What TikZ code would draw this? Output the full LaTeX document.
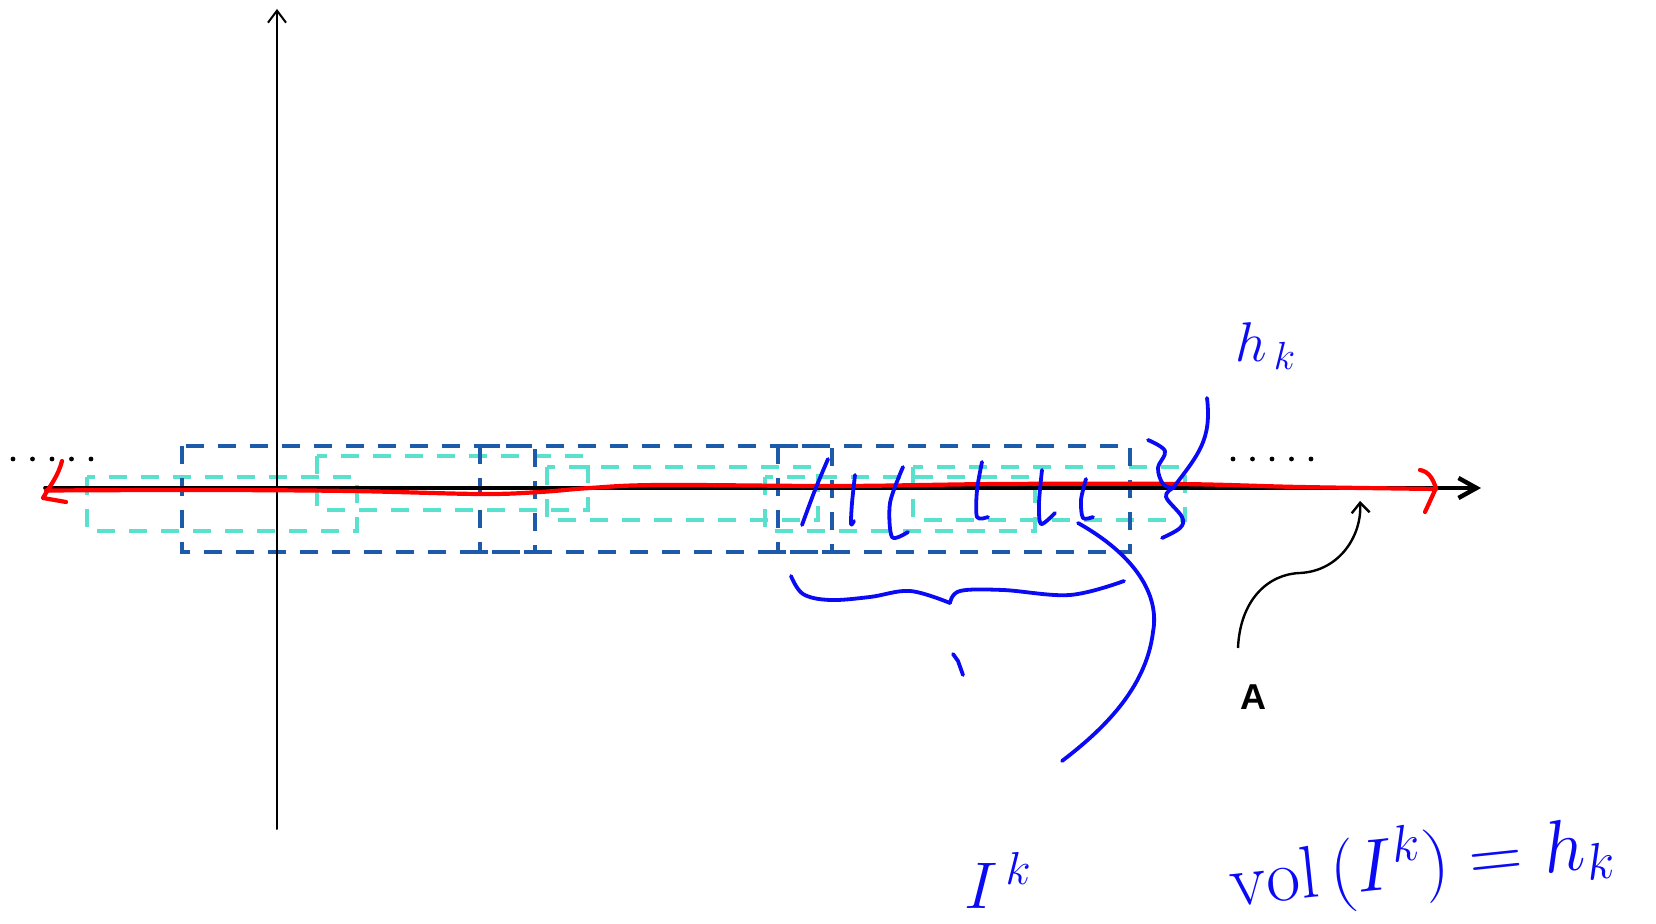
\RequirePackage{fix-cm}
\documentclass[tikz,border=0pt]{standalone}
\usepackage{fontspec}
\newfontfamily\labelfont{Liberation Sans}
\usetikzlibrary{arrows.meta}
\definecolor{boxdark}{RGB}{30,90,170}
\definecolor{boxcyan}{RGB}{90,225,205}
\definecolor{ink}{RGB}{10,10,245}
\definecolor{redink}{RGB}{255,0,0}
\tikzset{
  darkbox/.style={draw=boxdark,line width=2.1pt,dash pattern=on 9pt off 7pt},
  cyanbox/.style={draw=boxcyan,line width=2pt,dash pattern=on 9pt off 7pt},
  hand/.style={draw=ink,line width=1.9pt,line cap=round,line join=round},
  redhand/.style={draw=redink,line width=2.1pt,line cap=round,line join=round},
  axisline/.style={draw=black,line cap=round},
  handtext/.style={text=ink,inner sep=0pt},
  dotmark/.style={fill=black}
}
\begin{document}
\begin{tikzpicture}[x=0.5pt,y=-0.5pt]
\useasboundingbox (0,0) rectangle (1656,924);
% cyan boxes
\draw[cyanbox] (87,477) rectangle (357,531);
\draw[cyanbox] (317,456) rectangle (588,510);
\draw[cyanbox] (547,467) rectangle (818,520);
\draw[cyanbox] (765,477) rectangle (1035,531);
\draw[cyanbox] (913,467) rectangle (1185,520);
% dark boxes
\draw[darkbox] (182,446) rectangle (535,552);
\draw[darkbox] (480,446) rectangle (832,552);
\draw[darkbox] (778,446) rectangle (1130,552);
% axes
\coordinate (xl) at (45,488);
\coordinate (xr) at (1481,488);
\coordinate (yb) at (277,829);
\coordinate (yt) at (277,9);
\draw[axisline,line width=1.8pt,-{Straight Barb[length=9pt,width=10pt,line width=2.2pt]}] (xl) -- (xr);
\draw[axisline,line width=1pt,-{Straight Barb[length=6pt,width=9pt]}] (yb) -- (yt);
% dots
\foreach \x in {13,32.5,52,71.5,91}{\fill[dotmark] (\x,459) circle (1.2pt);}
\foreach \x in {1233,1252.5,1272,1291.5,1311}{\fill[dotmark] (\x,459) circle (1.2pt);}
% red curve
\draw[redhand] plot[smooth,tension=0.6] coordinates {(46,490.5) (200,490) (350,491) (480,494) (540,492) (590,488) (660,485) (840,486) (1000,484) (1177,484) (1300,487) (1436,489)};
\draw[redhand] (62,461) to[out=-105,in=60] (43,498) -- (66,502);
\draw[redhand] (1420,470) to[out=-10,in=110] (1436,488) -- (1425,512);
% blue marks
\draw[hand] plot[smooth] coordinates {(828,459) (815,490) (802,525)};
\draw[hand] plot[smooth] coordinates {(855,475) (852,503) (851,524) (854,521)};
\draw[hand] plot[smooth] coordinates {(903,467) (890,503) (892,537) (908,532)};
\draw[hand] plot[smooth] coordinates {(982,462) (977,490) (977,517) (988,517)};
\draw[hand] plot[smooth] coordinates {(1042,470) (1039,503) (1041,524) (1055,513)};
\draw[hand] plot[smooth] coordinates {(1086,479) (1081,500) (1083,518) (1093,517)};
% right brace
\draw[hand] plot[smooth,tension=0.6] coordinates {(1148,440) (1165,451) (1158,468) (1163,484) (1173,488)};
\draw[hand] plot[smooth,tension=0.6] coordinates {(1173,488) (1166,497) (1182,517) (1180,528) (1162,538)};
\draw[hand] (1173,488) .. controls (1198,455) and (1212,440) .. (1207,398);
% lower brace
\draw[hand] plot[smooth,tension=0.6] coordinates {(791,576) (803,594) (830,600) (870,597) (910,591) (950,603)};
\draw[hand] plot[smooth,tension=0.6] coordinates {(950,603) (960,591) (1003,590) (1070,595) (1124,581)};
\draw[hand] (953,654) -- (958,661) -- (963,675);
% long curve
\draw[hand] (1078,523) .. controls (1135,555) and (1160,595) .. (1153,632) .. controls (1146,690) and (1100,732) .. (1062,761);
% labels
\node[handtext,font=\fontsize{28}{34}\selectfont] (hk) at (1266,346) {$h_{\,k}$};
\node[handtext,font=\fontsize{33}{40}\selectfont] (Ik) at (998,880) {$I^{\,k}$};
\node[handtext,font=\fontsize{37}{44}\selectfont,rotate=6] (vol) at (1422,864) {$\mathrm{vol}\,(I^k)=h_k$};
\node[inner sep=0pt,font=\labelfont\bfseries\fontsize{18}{20}\selectfont] (A) at (1253,697) {A};
% arrow to axis
\coordinate (astart) at (1238,648);
\coordinate (atip) at (1360,501);
\draw[line width=1.2pt,-{Straight Barb[length=5pt,width=9pt]}] (astart) .. controls (1240,600) and (1268,574) .. (1300,573) .. controls (1340,571) and (1362,535) .. (atip);
\end{tikzpicture}
\end{document}
